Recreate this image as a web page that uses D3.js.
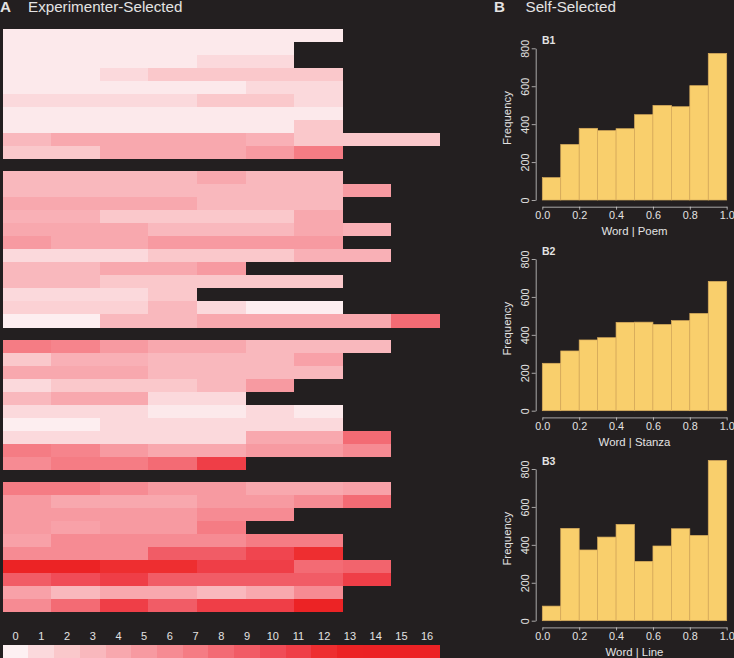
<!DOCTYPE html>
<html>
<head>
<meta charset="utf-8">
<script src="https://cdn.jsdelivr.net/npm/d3@7"></script>
<style>
html, body { margin: 0; padding: 0; background: #231f20; overflow: hidden; }
svg { display: block; }
text { font-family: "Liberation Sans", sans-serif; fill: #e4e3e3; }
</style>
</head>
<body>
<script>
// heat map rows, one array per block, one value per column
var group1 = [
    [0.3, 0.3, 0.3, 0.3, 0.3, 0.3, 0.3],
    [0.3, 0.3, 0.3, 0.3, 0.3, 0.3],
    [0.3, 0.3, 0.3, 0.3, 1, 1],
    [0.3, 0.3, 1, 2, 2, 2, 2],
    [0.3, 0.3, 0.3, 0.3, 0.3, 1, 1],
    [1, 1, 1, 1, 2, 2, 1],
    [0.3, 0.3, 0.3, 0.3, 0.3, 0.3, 0.3],
    [0.3, 0.3, 0.3, 0.3, 0.3, 0.3, 2],
    [3, 4, 4, 4, 4, 3.5, 2, 2, 2],
    [2, 2, 4, 4, 4, 5, 7]
];
var group2 = [
    [3, 3, 3, 3, 4, 3, 3],
    [3, 3, 3, 3, 3, 3, 3, 5],
    [4, 4, 4, 4, 3, 3, 3],
    [3.5, 3.5, 2, 2, 2, 2, 4],
    [4, 4, 4, 3, 3, 3, 4, 3.5],
    [5, 4, 4, 5, 5, 5, 5],
    [1, 1, 1, 2, 2, 2, 3.5, 3.5],
    [3, 3, 4, 4, 5],
    [3, 3, 2, 2, 2, 2, 2],
    [1, 1, 1, 2],
    [1.5, 1.5, 1.5, 3, 1, 0.1, 0.1],
    [0.1, 0.1, 3, 3, 4, 4, 4, 4, 8]
];
var group3 = [
    [7, 6.5, 5, 4, 4, 3, 3, 3],
    [2, 3.5, 3.5, 3, 3, 3, 4.5],
    [4, 4, 4, 3, 3, 3, 3],
    [1, 2, 2, 2, 3, 5],
    [3, 4, 4, 1, 1],
    [1, 1, 1, 0.3, 0.3, 1, 0.3],
    [0.1, 0.1, 1, 1, 1, 1, 1],
    [1, 1, 1, 1, 1, 4, 4, 8],
    [7, 6.5, 5, 4, 4, 5, 5, 6],
    [6, 7, 7, 8, 11]
];
var group4 = [
    [7, 7, 6, 5, 5, 4, 4, 4.5],
    [5, 4, 4, 4, 5, 5, 6, 8],
    [5, 5, 5, 5, 6, 6],
    [5, 4.5, 5, 5, 7],
    [4.5, 6, 6, 6, 6, 7, 7],
    [6, 6, 6, 9, 9, 10.5, 12],
    [13, 13, 12, 12, 11, 11, 8, 8.5],
    [9, 10, 11, 9, 9, 9, 9, 11],
    [4.5, 3, 4, 4, 3, 4, 6],
    [6, 8, 11, 9, 11, 11, 13]
];

var legendValues = d3.range(0, 17);
var legendColors = ["#fdf0f2", "#fbd9dc", "#fac8cb", "#f9b8bd", "#f8a8ae", "#f79aa1", "#f68b93", "#f57c84",
    "#f36b74", "#f15c66", "#f04c57", "#ef3e47", "#ee2e30", "#ec2325", "#ec2225", "#ec2225", "#ec2225"];

// word frequency histograms
var histEdges = [0, 0.1, 0.2, 0.3, 0.4, 0.5, 0.6, 0.7, 0.8, 0.9, 1];
var wordPoem = [118, 293, 378, 366, 376, 450, 499, 492, 603, 773];
var wordStanza = [250, 315, 373, 385, 466, 467, 455, 475, 513, 682];
var wordLine = [77, 487, 373, 441, 508, 313, 394, 485, 450, 845];
var xTicks = [0, 0.2, 0.4, 0.6, 0.8, 1];
var yTicks = [0, 200, 400, 600, 800];

var w = 734, h = 658;
var svg = d3.select("body").append("svg").attr("width", w).attr("height", h);

svg.append("rect").attr("width", w).attr("height", h).attr("fill", "#231f20");

function heading(x, txt, bold) {
    svg.append("text")
        .attr("x", x).attr("y", 12)
        .style("font-size", "15.2px")
        .style("font-weight", bold ? "bold" : "normal")
        .text(txt);
}
heading(0, "A", true);
heading(28, "Experimenter-Selected");
heading(494, "B", true);
heading(525.5, "Self-Selected");

// heat map
var colX = d3.scaleBand().domain(d3.range(9)).range([2.7, 440]);
var color = d3.scaleLinear().domain(legendValues).range(legendColors);

function drawGroup(rows, top, bottom) {
    var rowY = d3.scaleBand().domain(d3.range(rows.length)).range([top, bottom]);
    var g = svg.append("g").attr("shape-rendering", "crispEdges");
    g.selectAll("g")
        .data(rows)
        .enter()
        .append("g")
        .attr("transform", function(d, i) { return "translate(0," + rowY(i) + ")"; })
        .selectAll("rect")
        .data(function(d) { return d; })
        .enter()
        .append("rect")
        .attr("x", function(d, i) { return colX(i); })
        .attr("width", colX.bandwidth())
        .attr("height", rowY.bandwidth())
        .attr("fill", function(d) { return color(d); });
}
drawGroup(group1, 29, 158.7);
drawGroup(group2, 171, 327.5);
drawGroup(group3, 339.5, 469.5);
drawGroup(group4, 481.5, 611.7);

// legend
var legendX = d3.scaleBand().domain(legendValues).range([2.7, 440]);
svg.append("g").attr("shape-rendering", "crispEdges")
    .selectAll("rect")
    .data(legendValues)
    .enter()
    .append("rect")
    .attr("x", function(d) { return legendX(d); })
    .attr("y", 644.7)
    .attr("width", legendX.bandwidth())
    .attr("height", 14)
    .attr("fill", function(d) { return color(d); });
svg.selectAll("text.legend")
    .data(legendValues)
    .enter()
    .append("text")
    .attr("class", "legend")
    .attr("x", function(d) { return legendX(d) + legendX.bandwidth() / 2; })
    .attr("y", 639.5)
    .attr("text-anchor", "middle")
    .style("font-size", "11px")
    .text(function(d) { return d; });

// histograms
function drawHist(values, label, xlabel, top, base) {
    var x = d3.scaleLinear().domain([0, 1]).range([542.3, 726.7]);
    var y = d3.scaleLinear().domain([0, 800]).range([base, top]);
    var g = svg.append("g");

    g.selectAll("rect")
        .data(values)
        .enter()
        .append("rect")
        .attr("x", function(d, i) { return x(histEdges[i]); })
        .attr("y", function(d) { return y(d); })
        .attr("width", function(d, i) { return x(histEdges[i + 1]) - x(histEdges[i]); })
        .attr("height", function(d) { return y(0) - y(d); })
        .attr("fill", "#f9cf6c")
        .attr("stroke", "#d8ab5c")
        .attr("stroke-width", 0.7);

    var yAxis = g.append("g")
        .attr("transform", "translate(535.7,0)")
        .call(d3.axisLeft(y).tickValues(yTicks).tickSize(4).tickSizeOuter(0).tickFormat(d3.format("d")));
    yAxis.selectAll("text")
        .attr("transform", "translate(-7,0) rotate(-90)")
        .attr("x", 0)
        .attr("y", 0)
        .attr("dy", 0)
        .attr("text-anchor", "middle");

    var xAxis = g.append("g")
        .attr("transform", "translate(0," + (base + 6.7) + ")")
        .call(d3.axisBottom(x).tickValues(xTicks).tickSize(3).tickSizeOuter(0).tickPadding(2).tickFormat(d3.format(".1f")));

    [yAxis, xAxis].forEach(function(a) {
        a.selectAll("path, line").attr("stroke", "#e4e3e3").attr("stroke-width", 0.7);
        a.selectAll("text").style("font-size", "10.8px").attr("fill", "#e4e3e3");
    });

    g.append("text")
        .attr("x", 634.5).attr("y", base + 35)
        .attr("text-anchor", "middle")
        .style("font-size", "11.4px")
        .text(xlabel);
    g.append("text")
        .attr("transform", "translate(511," + (base - 82) + ") rotate(-90)")
        .attr("text-anchor", "middle")
        .style("font-size", "11.4px")
        .text("Frequency");
    g.append("text")
        .attr("x", 542).attr("y", top - 4)
        .style("font-size", "10.5px")
        .style("font-weight", "bold")
        .text(label);
}
drawHist(wordPoem, "B1", "Word | Poem", 48.3, 200);
drawHist(wordStanza, "B2", "Word | Stanza", 259, 410.7);
drawHist(wordLine, "B3", "Word | Line", 469, 620.7);
</script>
</body>
</html>
